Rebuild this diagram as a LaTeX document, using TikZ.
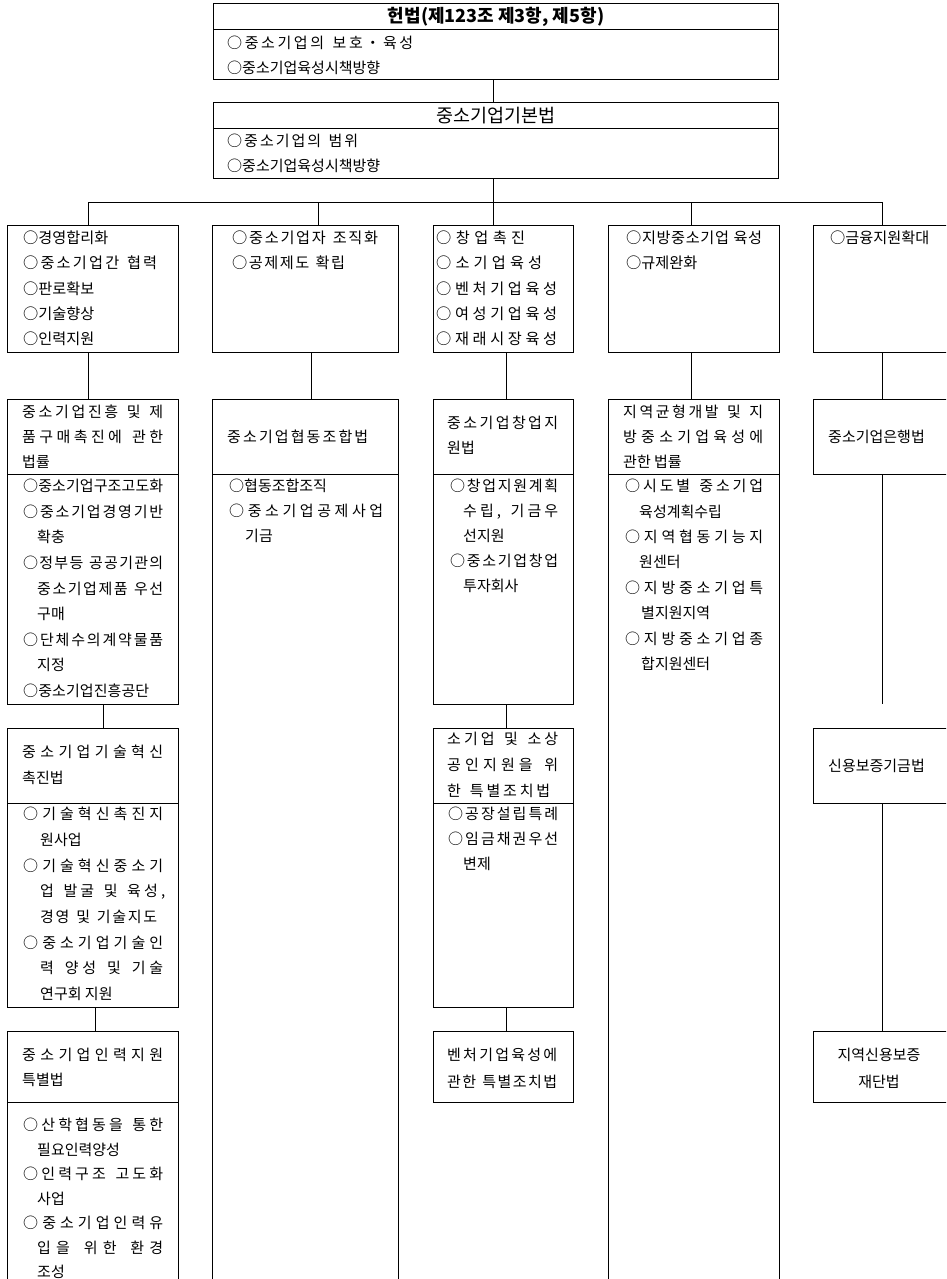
\documentclass[tikz,border=0pt]{standalone}
\usepackage{fontspec}
\setmainfont{Noto Sans CJK KR}
\makeatletter
\def\LL@end{LLEND}
\newcommand\LL[2]{\hbox to #1pt{\LL@a#2\LL@end}}
\def\LL@a#1{#1\LL@b}
\def\LL@b#1{\ifx#1\LL@end\else\hskip 0pt plus 1fil minus 1fil\relax#1\expandafter\LL@b\fi}
\makeatother
\newcommand\F{\rule{0pt}{13pt}}
\begin{document}
\begin{tikzpicture}[x=1pt,y=-1pt,
  box/.style={draw, line width=1.2pt, inner sep=0pt, anchor=north west},
  link/.style={line width=1pt},
  tx/.style={font=\fontsize{15}{#1}\selectfont, align=left, inner sep=0pt, anchor=north west},
  tx/.default=25.6,
  fa/.style={font=\fontsize{15.2}{25.25}\selectfont},
  one/.style={font=\fontsize{15}{16}\selectfont, inner sep=0pt, anchor=west}]
\useasboundingbox (0,0) rectangle (946,1279);
\clip (0,0) rectangle (946,1279);
% ---- boxes
\node[box, minimum width=565pt, minimum height=26pt] (Tt) at (213,3) {};
\node[box, minimum width=565pt, minimum height=50pt] (Tb) at (213,29) {};
\node[box, minimum width=565pt, minimum height=26pt] (Bt) at (213,102) {};
\node[box, minimum width=565pt, minimum height=50pt] (Bb) at (213,128) {};
\node[box, minimum width=171pt, minimum height=127pt] (r1c1) at (7,225) {};
\node[box, minimum width=186pt, minimum height=127pt] (r1c2) at (212,225) {};
\node[box, minimum width=140pt, minimum height=127pt] (r1c3) at (433,225) {};
\node[box, minimum width=171pt, minimum height=127pt] (r1c4) at (608,225) {};
\node[box, minimum width=150pt, minimum height=127pt] (r1c5) at (813,225) {};
\node[box, minimum width=171pt, minimum height=75pt] (r2c1t) at (7,399) {};
\node[box, minimum width=171pt, minimum height=230pt] (r2c1b) at (7,474) {};
\node[box, minimum width=186pt, minimum height=75pt] (r2c2t) at (212,399) {};
\node[box, minimum width=186pt, minimum height=820pt] (r2c2b) at (212,474) {};
\node[box, minimum width=140pt, minimum height=75pt] (r2c3t) at (433,399) {};
\node[box, minimum width=140pt, minimum height=230pt] (r2c3b) at (433,474) {};
\node[box, minimum width=171pt, minimum height=75pt] (r2c4t) at (608,399) {};
\node[box, minimum width=171pt, minimum height=820pt] (r2c4b) at (608,474) {};
\node[box, minimum width=150pt, minimum height=75pt] (r2c5) at (813,399) {};
\node[box, minimum width=171pt, minimum height=75pt] (r3c1t) at (7,728) {};
\node[box, minimum width=171pt, minimum height=204pt] (r3c1b) at (7,803) {};
\node[box, minimum width=140pt, minimum height=75pt] (r3c3t) at (433,728) {};
\node[box, minimum width=140pt, minimum height=204pt] (r3c3b) at (433,803) {};
\node[box, minimum width=150pt, minimum height=75pt] (r3c5) at (813,728) {};
\node[box, minimum width=171pt, minimum height=71pt] (r4c1t) at (7,1031) {};
\node[box, minimum width=171pt, minimum height=190pt] (r4c1b) at (7,1102) {};
\node[box, minimum width=140pt, minimum height=71pt] (r4c3) at (433,1031) {};
\node[box, minimum width=150pt, minimum height=71pt] (r4c5) at (813,1031) {};
% ---- connector coordinates
\coordinate (k1) at (88,202);
\coordinate (k2) at (318,202);
\coordinate (k3) at (493,202);
\coordinate (k4) at (691,202);
\coordinate (k5) at (882,202);
\coordinate (k1b) at (103,0);
\coordinate (k1c) at (95,0);
\coordinate (k2b) at (311,0);
\coordinate (k3b) at (506,0);
\coordinate (e5) at (882,704);
% ---- connectors
\draw[link] (Tb.south -| k3) -- (Bt.north -| k3);
\draw[link] (Bb.south -| k3) -- (r1c3.north -| k3);
\draw[link] (k1) -- (k5);
\draw[link] (k1) -- (r1c1.north -| k1);
\draw[link] (k2) -- (r1c2.north -| k2);
\draw[link] (k4) -- (r1c4.north -| k4);
\draw[link] (k5) -- (r1c5.north -| k5);
\draw[link] (r1c1.south -| k1) -- (r2c1t.north -| k1);
\draw[link] (r1c2.south -| k2b) -- (r2c2t.north -| k2b);
\draw[link] (r1c3.south -| k3b) -- (r2c3t.north -| k3b);
\draw[link] (r1c4.south -| k4) -- (r2c4t.north -| k4);
\draw[link] (r1c5.south -| k5) -- (r2c5.north -| k5);
\draw[link] (r2c5.south -| k5) -- (e5);
\draw[link] (r3c5.south -| k5) -- (r4c5.north -| k5);
\draw[link] (r2c1b.south -| k1b) -- (r3c1t.north -| k1b);
\draw[link] (r3c1b.south -| k1c) -- (r4c1t.north -| k1c);
\draw[link] (r2c3b.south -| k3b) -- (r3c3t.north -| k3b);
\draw[link] (r3c3b.south -| k3b) -- (r4c3.north -| k3b);
% ---- texts
\node[font=\fontsize{18}{20}\selectfont\bfseries, inner sep=0pt] (Ttx) at (Tt.center) {헌법(제123조 제3항, 제5항)};
\node[tx={25}] (Tbx) at (227,35.5) {\F\LL{186}{○중소기업의~보호・육성}\\\LL{153}{○중소기업육성시책방향}};
\node[font=\fontsize{18.5}{20}\selectfont, inner sep=0pt] (Btx) at (Bt.center) {중소기업기본법};
\node[tx={25}] (Bbx) at (227,133.5) {\F\LL{131}{○중소기업의~범위}\\\LL{153}{○중소기업육성시책방향}};
% row 1
\node[tx,fa] (r1c1x) at (23,230.5) {\F○경영합리화\\\LL{134}{○중소기업간~협력}\\○판로확보\\○기술향상\\○인력지원};
\node[tx,fa] (r1c2x) at (232,230.5) {\F\LL{146}{○중소기업자~조직화}\\\LL{113}{○공제제도~확립}};
\node[tx,fa] (r1c3x) at (436,230.5) {\F\LL{89}{○창업촉진}\\\LL{106}{○소기업육성}\\\LL{121}{○벤처기업육성}\\\LL{121}{○여성기업육성}\\\LL{121}{○재래시장육성}};
\node[tx,fa] (r1c4x) at (626,230.5) {\F\LL{136}{○지방중소기업~육성}\\○규제완화};
\node[tx,fa] (r1c5x) at (830,230.5) {\F○금융지원확대};
% row 2
\node[tx={25}] (r2c1tx) at (22,404.5) {\F\LL{141}{중소기업진흥~및~제}\\\LL{141}{품구매촉진에~관한}\\법률};
\node[tx] (r2c1bx) at (23,478.5) {\F\LL{140}{○중소기업구조고도화}\\\LL{140}{○중소기업경영기반}\\\hspace*{14pt}확충\\\LL{140}{○정부등~공공기관의}\\\hspace*{14pt}\LL{126}{중소기업제품~우선}\\\hspace*{14pt}구매\\\LL{140}{○단체수의계약물품}\\\hspace*{14pt}지정\\\LL{126}{○중소기업진흥공단}};
\node[one] (r2c2tx) at (227,437) {\LL{141}{중소기업협동조합법}};
\node[tx={25}] (r2c2bx) at (229,478.5) {\F○협동조합조직\\\LL{154}{○중소기업공제사업}\\\hspace*{16pt}기금};
\node[tx={25}] (r2c3tx) at (447,415.5) {\F\LL{111}{중소기업창업지}\\원법};
\node[tx={25}] (r2c3bx) at (450,478.5) {\F\LL{108}{○창업지원계획}\\\hspace*{13pt}\LL{95}{수립,~기금우}\\\hspace*{13pt}선지원\\\LL{108}{○중소기업창업}\\\hspace*{13pt}투자회사};
\node[tx={25}] (r2c4tx) at (623,404.5) {\F\LL{140}{지역균형개발~및~지}\\\LL{140}{방중소기업육성에}\\관한 법률};
\node[tx={25.4}] (r2c4bx) at (625,478.5) {\F\LL{138}{○시도별~중소기업}\\\hspace*{14pt}육성계획수립\\\LL{138}{○지역협동기능지}\\\hspace*{14pt}원센터\\\LL{138}{○지방중소기업특}\\\hspace*{16pt}별지원지역\\\LL{138}{○지방중소기업종}\\\hspace*{16pt}합지원센터};
\node[one] (r2c5x) at (828,437) {중소기업은행법};
% row 3
\node[tx={26}] (r3c1tx) at (22,744.5) {\F\LL{141}{중소기업기술혁신}\\촉진법};
\node[tx={25.7}] (r3c1bx) at (23,806.5) {\F\LL{140}{○기술혁신촉진지}\\\hspace*{17pt}원사업\\\LL{140}{○기술혁신중소기}\\\hspace*{17pt}\LL{125}{업~발굴~및~육성,}\\\hspace*{17pt}\LL{117}{경영~및~기술지도}\\\LL{140}{○중소기업기술인}\\\hspace*{17pt}\LL{123}{력~양성~및~기술}\\\hspace*{17pt}연구회 지원};
\node[tx={26}] (r3c3tx) at (447,731.5) {\F\LL{111}{소기업~및~소상}\\\LL{111}{공인지원을~위}\\\LL{103}{한~특별조치법}};
\node[tx={25}] (r3c3bx) at (448,806.5) {\F\LL{110}{○공장설립특례}\\\LL{110}{○임금채권우선}\\\hspace*{15pt}변제};
\node[one] (r3c5x) at (828,766) {신용보증기금법};
% row 4
\node[tx={25}] (r4c1tx) at (22,1047.5) {\F\LL{141}{중소기업인력지원}\\특별법};
\node[tx={24.5}] (r4c1bx) at (23,1117.5) {\F\LL{140}{○산학협동을~통한}\\\hspace*{14pt}필요인력양성\\\LL{140}{○인력구조~고도화}\\\hspace*{14pt}사업\\\LL{140}{○중소기업인력유}\\\hspace*{14pt}\LL{126}{입을~위한~환경}\\\hspace*{14pt}조성};
\node[tx={27}] (r4c3x) at (447,1047.5) {\F\LL{110}{벤처기업육성에}\\\LL{110}{관한~특별조치법}};
\node[tx={27}, anchor=north, align=center] (r4c5x) at (879,1047.5) {\F{}지역신용보증\\재단법};
\end{tikzpicture}
\end{document}
